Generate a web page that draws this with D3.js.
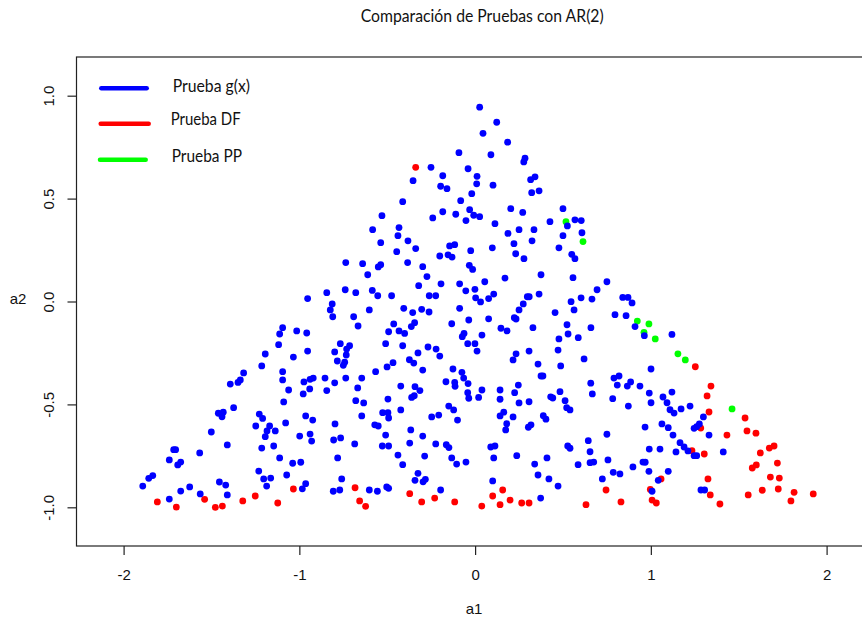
<!DOCTYPE html>
<html>
<head>
<meta charset="utf-8">
<script src="https://cdn.jsdelivr.net/npm/d3@7"></script>
<style>
  html, body { margin: 0; padding: 0; background: #fff; }
  svg { display: block; }
</style>
</head>
<body>
<script>
// ---------------- data ----------------
const chartTitle = "Comparación de Pruebas con AR(2)";
const xLabel = "a1";
const yLabel = "a2";
const xTicks = [-2, -1, 0, 1, 2];
const xTickLabels = ["-2", "-1", "0", "1", "2"];
const yTicks = [-1, -0.5, 0, 0.5, 1];
const yTickLabels = ["-1.0", "-0.5", "0.0", "0.5", "1.0"];
const legendLabels = ["Prueba g(x)", "Prueba DF", "Prueba PP"];
const seriesColors = ["#0000ff", "#ff0000", "#00ff00"];

// Prueba g(x) (blue)
const pruebaGX = [
[-0.813,-0.012],[-0.824,-0.041],[-0.810,-0.074],[-0.691,-0.074],[-0.666,-0.119],[-0.602,-0.041],[-1.095,-0.127],[-1.112,-0.158],[-1.015,-0.143],[-0.958,-0.153],[-1.118,-0.210],[-1.194,-0.255],[-1.034,-0.270],[-0.953,-0.241],[-0.767,-0.205],[-0.714,-0.215],[-0.731,-0.231],[-0.799,-0.245],[-0.733,-0.260],[-0.784,-0.289],[-0.742,-0.295],[-0.750,-0.310],[-1.214,-0.313],[-1.317,-0.347],[-1.336,-0.381],[-1.349,-0.393],[-1.393,-0.401],[-1.095,-0.341],[-1.095,-0.381],[-1.061,-0.430],[-0.974,-0.391],[-0.939,-0.378],[-0.921,-0.372],[-0.854,-0.372],[-0.941,-0.425],[-0.978,-0.449],[-0.844,-0.433],[-0.799,-0.395],[-0.736,-0.372],[-0.645,-0.372],[-0.668,-0.420],[-0.679,-0.482],[-0.634,-0.493],[-0.645,-0.556],[-1.089,-0.488],[-1.374,-0.516],[-1.461,-0.543],[-1.433,-0.538],[-1.440,-0.560],[-1.501,-0.634],[-1.410,-0.697],[-1.228,-0.547],[-1.209,-0.568],[-1.248,-0.605],[-1.169,-0.605],[-1.184,-0.629],[-1.194,-0.657],[-1.137,-0.629],[-1.078,-0.590],[-0.964,-0.556],[-0.924,-0.576],[-0.939,-0.644],[-0.930,-0.678],[-0.998,-0.654],[-0.797,-0.595],[-0.805,-0.673],[-0.765,-0.663],[-0.685,-0.692],[-0.782,-0.760],[-1.214,-0.712],[-1.146,-0.702],[-1.112,-0.760],[-1.038,-0.786],[-0.992,-0.781],[-1.072,-0.843],[-1.231,-0.824],[-1.203,-0.862],[-1.163,-0.858],[-1.186,-0.897],[-0.964,-0.885],[-0.983,-0.910],[-0.759,-0.862],[-0.807,-0.922],[-0.770,-0.916],[-0.602,-0.916],[-1.715,-0.720],[-1.704,-0.720],[-1.740,-0.770],[-1.675,-0.780],[-1.692,-0.794],[-1.567,-0.736],[-1.834,-0.846],[-1.857,-0.859],[-1.891,-0.897],[-1.675,-0.921],[-1.624,-0.901],[-1.740,-0.960],[-1.564,-0.935],[-1.455,-0.877],[-1.419,-0.892],[-1.410,-0.940],
[-0.092,0.723],[-0.251,0.652],[-0.040,0.645],[-0.184,0.611],[0.011,0.608],[0.009,0.572],[-0.353,0.587],[-0.196,0.560],[-0.160,0.548],[-0.019,0.524],[-0.412,0.485],[-0.082,0.490],[-0.031,0.446],[-0.184,0.436],[-0.110,0.424],[-0.008,0.419],[0.026,0.412],[-0.241,0.406],[-0.052,0.393],[-0.530,0.417],[-0.583,0.349],[-0.433,0.359],[-0.439,0.320],[-0.382,0.295],[-0.537,0.286],[-0.338,0.257],[-0.446,0.242],[-0.145,0.270],[-0.116,0.276],[-0.201,0.221],[-0.154,0.227],[-0.131,0.216],[-0.025,0.247],[-0.736,0.189],[-0.640,0.184],[-0.551,0.168],[-0.537,0.179],[-0.384,0.189],[-0.298,0.169],[-0.611,0.130],[-0.274,0.121],[-0.033,0.176],[-0.014,0.156],[-0.844,0.043],[-0.739,0.057],[-0.679,0.043],[-0.585,0.054],[-0.554,0.028],[-0.475,0.028],[-0.953,0.014],[-0.321,0.077],[-0.194,0.086],[-0.261,0.028],[-0.224,0.028],[-0.088,0.086],[-0.053,0.052],[-0.001,0.059],[0.055,0.096],[0.003,0.018],[0.077,0.014],
[0.026,0.944],[0.123,0.871],[0.045,0.817],[0.185,0.774],
[0.090,0.713],[0.284,0.696],[0.277,0.678],[0.102,0.565],[0.341,0.606],[0.316,0.592],[0.322,0.529],[0.364,0.538],[0.203,0.451],[0.271,0.433],[0.500,0.451],[0.426,0.388],[0.525,0.367],[0.568,0.397],[0.604,0.393],[0.608,0.334],[0.500,0.320],[0.477,0.261],[0.113,0.378],[0.187,0.331],[0.250,0.349],[0.335,0.349],[0.221,0.281],[0.324,0.295],[0.098,0.261],[0.231,0.232],[0.278,0.208],[0.550,0.229],[0.568,0.208],[0.170,0.114],[0.375,0.130],[0.557,0.116],[0.750,0.096],[0.694,0.057],[0.106,0.036],[0.297,0.023],[0.308,0.023],[0.364,0.036],[0.603,0.018],[0.665,0.012],[0.840,0.020],[0.870,0.020],
[-0.406,-0.033],[-0.355,-0.054],[-0.304,-0.038],[-0.262,-0.051],[-0.088,-0.033],[0.031,-0.002],[0.274,-0.012],[0.250,-0.041],[0.546,-0.001],[-0.463,-0.109],[-0.492,-0.147],[-0.433,-0.143],[-0.401,-0.155],[-0.363,-0.122],[-0.344,-0.103],[-0.509,-0.205],[-0.412,-0.215],[-0.325,-0.250],[-0.268,-0.221],[-0.222,-0.231],[-0.201,-0.265],[-0.133,-0.108],[-0.036,-0.090],[-0.063,-0.155],[-0.073,-0.171],[0.039,-0.163],[-0.042,-0.205],[-0.001,-0.205],[0.011,-0.241],[0.077,-0.084],[0.147,-0.130],[0.182,-0.143],[0.223,-0.079],[0.233,-0.085],[0.329,-0.127],[0.307,-0.241],[0.233,-0.254],[0.216,-0.284],[0.358,-0.304],[0.375,-0.362],[0.386,-0.362],[0.455,-0.054],[0.563,-0.041],[0.523,-0.113],[0.529,-0.158],[0.477,-0.182],[0.587,-0.176],[0.659,-0.127],[0.472,-0.236],[0.487,-0.313],[0.620,-0.279],[-0.374,-0.283],[-0.349,-0.299],[-0.467,-0.297],[-0.501,-0.318],[-0.566,-0.341],[-0.298,-0.333],[-0.126,-0.328],[-0.075,-0.344],[-0.065,-0.372],[-0.166,-0.390],[-0.116,-0.393],[-0.114,-0.412],[-0.040,-0.399],[-0.042,-0.443],[-0.036,-0.470],[0.039,-0.430],[0.020,-0.466],[-0.423,-0.411],[-0.342,-0.414],[-0.314,-0.433],[-0.361,-0.466],[-0.346,-0.458],[-0.496,-0.474],[-0.423,-0.527],[-0.526,-0.540],[-0.496,-0.540],[-0.492,-0.566],[-0.571,-0.599],[-0.551,-0.605],[-0.509,-0.649],[-0.528,-0.702],[-0.492,-0.702],[-0.439,-0.746],[-0.412,-0.793],[-0.366,-0.624],[-0.372,-0.688],[-0.298,-0.654],[-0.287,-0.751],[-0.247,-0.561],[-0.207,-0.552],[-0.150,-0.508],[-0.122,-0.527],[-0.100,-0.576],[-0.224,-0.692],[-0.164,-0.696],[-0.149,-0.710],[-0.133,-0.760],[-0.105,-0.790],[-0.052,-0.780],[-0.325,-0.835],[-0.342,-0.869],[-0.296,-0.876],[-0.283,-0.864],[-0.503,-0.901],[-0.492,-0.908],[-0.556,-0.922],[-0.196,-0.916],[0.142,-0.430],[0.142,-0.475],[0.225,-0.443],[0.250,-0.493],[0.246,-0.406],[0.307,-0.487],[0.163,-0.538],[0.142,-0.556],[0.216,-0.561],[0.180,-0.594],[0.174,-0.624],[0.388,-0.555],[0.403,-0.572],[0.318,-0.599],[0.303,-0.611],[0.430,-0.463],[0.442,-0.469],[0.483,-0.438],[0.512,-0.482],[0.521,-0.516],[0.540,-0.527],[0.658,-0.397],[0.667,-0.449],[0.089,-0.707],[0.113,-0.702],[0.106,-0.760],[0.237,-0.749],[0.339,-0.790],[0.358,-0.843],[0.409,-0.760],[0.420,-0.862],[0.472,-0.897],[0.100,-0.872],[0.373,-0.955],[0.527,-0.702],[0.540,-0.713],[0.644,-0.676],[0.654,-0.730],[0.586,-0.793],[0.654,-0.783],[0.675,-0.780],[0.750,-0.645],[0.756,-0.770],[0.724,-0.862],
[0.893,-0.007],[0.796,-0.064],[0.859,-0.069],[0.910,-0.122],[0.963,-0.166],[1.120,-0.160],[1.001,-0.328],[0.790,-0.372],[0.819,-0.362],[0.809,-0.406],[0.866,-0.411],[0.885,-0.391],[0.938,-0.411],[0.783,-0.472],[0.872,-0.508],[0.991,-0.445],[1.001,-0.492],[1.120,-0.440],[1.069,-0.464],[1.092,-0.492],[1.109,-0.526],[1.132,-0.542],[1.172,-0.522],[1.223,-0.508],[1.299,-0.561],[1.276,-0.595],[1.261,-0.608],[1.246,-0.616],[1.331,-0.649],[0.967,-0.610],[1.063,-0.595],[1.099,-0.613],[1.126,-0.649],[1.166,-0.686],[1.189,-0.707],[1.211,-0.726],[1.246,-0.749],[1.261,-0.749],[1.412,-0.731],[0.991,-0.717],[1.052,-0.717],[1.143,-0.731],[0.955,-0.780],[0.968,-0.781],[0.898,-0.804],[0.786,-0.830],[0.824,-0.838],[0.989,-0.825],[1.099,-0.825],[1.042,-0.869],[1.007,-0.922],[1.285,-0.916],[1.306,-0.916]
];

// Prueba DF (red)
const pruebaDF = [
[-1.808,-0.974],[-1.700,-0.999],[-1.539,-0.961],[-1.478,-1.000],[-1.438,-0.994],[-1.322,-0.969],[-1.251,-0.945],[-1.123,-0.979],[-1.034,-0.911],[-0.683,-0.905],[-0.657,-0.969],[-0.623,-0.995],
[-0.338,0.652],
[-0.372,-0.934],[-0.304,-0.974],[-0.230,-0.955],[-0.116,-0.974],[0.038,-0.994],[0.100,-0.945],[0.157,-0.916],[0.142,-0.987],[0.199,-0.965],[0.265,-0.979],[0.307,-0.979],[0.631,-0.987],[0.745,-0.916],
[1.253,-0.317],[1.342,-0.411],[1.320,-0.459],[1.331,-0.537],[1.284,-0.615],[1.433,-0.649],[1.536,-0.566],[1.547,-0.629],[1.598,-0.640],[1.234,-0.725],[1.304,-0.741],[1.623,-0.736],[1.674,-0.712],[1.701,-0.702],[1.720,-0.785],[1.577,-0.809],[1.600,-0.794],[1.680,-0.853],[1.731,-0.858],[1.725,-0.911],[1.634,-0.917],[1.554,-0.940],[1.815,-0.927],[1.797,-0.969],[1.924,-0.935],[1.325,-0.862],[1.338,-0.940],[1.393,-0.984],[1.058,-0.862],[0.997,-0.913],[1.007,-0.965],[1.031,-0.979],[0.830,-0.974]
];

// Prueba PP (green)
const pruebaPP = [
[0.517,0.388],[0.614,0.291],[0.923,-0.095],[0.989,-0.109],[0.961,-0.150],[1.025,-0.182],[1.154,-0.254],[1.196,-0.284],[1.462,-0.522]
];

// ---------------- chart ----------------
const W = 862, H = 617;
const plot = { left: 76.5, right: 873.7, top: 57, bottom: 546 };
const xDomain = [-2.268, 2.268];
const yDomain = [-1.188, 1.188];

const svg = d3.select("body").append("svg")
  .attr("width", W).attr("height", H)
  .attr("viewBox", `0 0 ${W} ${H}`);

svg.append("rect").attr("width", W).attr("height", H).attr("fill", "#fff");

const x = d3.scaleLinear().domain(xDomain).range([plot.left, plot.right]);
const y = d3.scaleLinear().domain(yDomain).range([plot.bottom, plot.top]);

const tickFont = "'Liberation Sans', Arial, sans-serif";
const textFont = "Lato, 'Open Sans', sans-serif";

// title
svg.append("text")
  .attr("x", 360.7).attr("y", 22)
  .attr("font-family", textFont).attr("font-size", 17)
  .attr("textLength", 243).attr("lengthAdjust", "spacingAndGlyphs")
  .attr("fill", "#111")
  .text(chartTitle);

// points: DF, PP, then g(x) on top
const series = [
  { data: pruebaDF, color: seriesColors[1] },
  { data: pruebaPP, color: seriesColors[2] },
  { data: pruebaGX, color: seriesColors[0] }
];
const pts = svg.append("g");
series.forEach(s => {
  pts.append("g").selectAll("circle").data(s.data).join("circle")
    .attr("cx", d => x(d[0]))
    .attr("cy", d => y(d[1]))
    .attr("r", 3.4)
    .attr("fill", s.color);
});

// box
svg.append("rect")
  .attr("x", plot.left).attr("y", plot.top)
  .attr("width", plot.right - plot.left).attr("height", plot.bottom - plot.top)
  .attr("fill", "none").attr("stroke", "#222").attr("stroke-width", 1.2);

// x axis
const xAxis = d3.axisBottom(x).tickValues(xTicks)
  .tickFormat((d, i) => xTickLabels[i]).tickSize(9).tickPadding(14);
const gx = svg.append("g").attr("transform", `translate(0,${plot.bottom})`).call(xAxis);
gx.select(".domain").remove();
gx.selectAll(".tick line").attr("stroke", "#222").attr("stroke-width", 1.2);
gx.selectAll(".tick text").attr("font-family", tickFont).attr("font-size", 15).attr("fill", "#111");

// y axis
const yAxis = d3.axisLeft(y).tickValues(yTicks)
  .tickFormat((d, i) => yTickLabels[i]).tickSize(9).tickPadding(0);
const gy = svg.append("g").attr("transform", `translate(${plot.left},0)`).call(yAxis);
gy.select(".domain").remove();
gy.selectAll(".tick line").attr("stroke", "#222").attr("stroke-width", 1.2);
gy.selectAll(".tick text")
  .attr("font-family", tickFont).attr("font-size", 15).attr("fill", "#111")
  .attr("x", null).attr("dy", null)
  .attr("text-anchor", "middle")
  .attr("transform", "translate(-23,0) rotate(-90)");

// axis labels
svg.append("text")
  .attr("x", 474).attr("y", 614).attr("text-anchor", "middle")
  .attr("font-family", tickFont).attr("font-size", 15).attr("fill", "#111")
  .text(xLabel);
svg.append("text")
  .attr("x", 18).attr("y", 304).attr("text-anchor", "middle")
  .attr("font-family", tickFont).attr("font-size", 15).attr("fill", "#111")
  .text(yLabel);

// legend
const legendRows = [
  { x1: 101.3, x2: 146.7, ly: 88.3, tx: 172.7, ty: 91.5, tw: 77.3 },
  { x1: 100.7, x2: 148.7, ly: 123.7, tx: 170.7, ty: 124.5, tw: 70 },
  { x1: 100, x2: 145.7, ly: 159.7, tx: 171.7, ty: 161.5, tw: 70.3 }
];
const lg = svg.append("g");
legendRows.forEach((r, i) => {
  lg.append("line")
    .attr("x1", r.x1).attr("x2", r.x2).attr("y1", r.ly).attr("y2", r.ly)
    .attr("stroke", seriesColors[i]).attr("stroke-width", 4.5)
    .attr("stroke-linecap", "round");
  lg.append("text")
    .attr("x", r.tx).attr("y", r.ty)
    .attr("font-family", textFont).attr("font-size", 17).attr("fill", "#111")
    .attr("textLength", r.tw).attr("lengthAdjust", "spacingAndGlyphs")
    .text(legendLabels[i]);
});
</script>
</body>
</html>
